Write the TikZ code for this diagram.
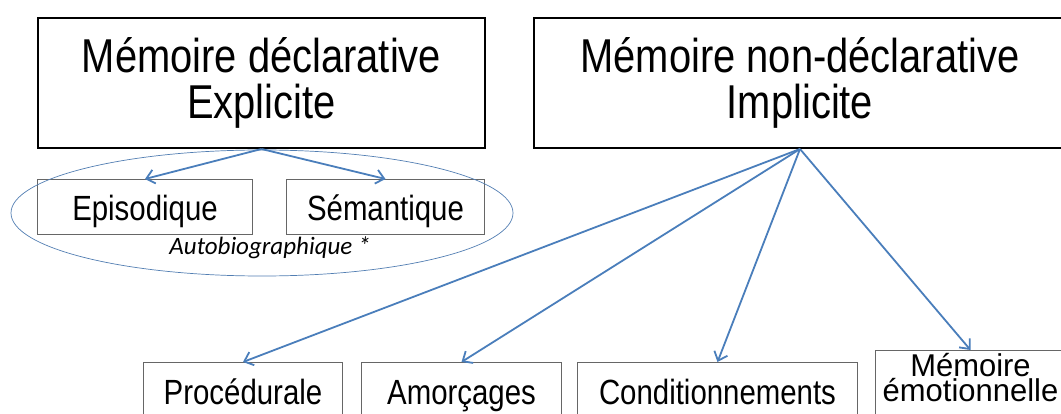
\documentclass[tikz,border=0pt]{standalone}
\usepackage{graphicx}
\usepackage{fontspec}
\setmainfont{Liberation Sans}
\newfontfamily\autofont{Carlito}
\usetikzlibrary{arrows.meta,shapes.geometric}
\definecolor{linkblue}{RGB}{74,126,187}
\newcommand{\narrow}[1]{\scalebox{0.84}[1]{#1}}
\begin{document}
\begin{tikzpicture}[x=1pt, y=-1pt,
  bigbox/.style={draw=black, line width=2pt, anchor=north west, align=center, inner sep=0pt, minimum height=130pt, font=\fontsize{47.5}{46}\selectfont},
  subbox/.style={draw=black!60, line width=1pt, anchor=north west, inner sep=0pt, minimum height=55pt, text height=34pt, text depth=6pt, font=\fontsize{35}{36}\selectfont},
  link/.style={-{Straight Barb[length=8pt,width=14pt]}, line width=1.8pt, draw=linkblue}]
\useasboundingbox (0,0) rectangle (1061,414);
\clip (0,0) rectangle (1061,414);
% top level
\node[bigbox, minimum width=447pt] (decl) at (37,17) {\narrow{Mémoire déclarative}\\ \narrow{Explicite}};
\node[bigbox, minimum width=532pt] (nondecl) at (533,17) {\narrow{Mémoire non-déclarative}\\ \narrow{Implicite}};
% explicit memory
\node[subbox, minimum width=215pt] (epi) at (37,179) {\narrow{Episodique}};
\node[subbox, minimum width=198pt] (sem) at (286,179) {\narrow{Sémantique}};
\node[draw=linkblue!85!gray, line width=0.7pt, ellipse, minimum width=502pt, minimum height=126pt] (autobio) at (262,213) {};
\node[font=\fontsize{25}{26}\autofont\itshape] (autolabel) at (270,248) {Autobiographique *};
% implicit memory
\node[subbox, minimum width=199pt, minimum height=56pt] (proc) at (143,362) {\narrow{Procédurale}};
\node[subbox, minimum width=200pt, minimum height=56pt] (amor) at (361,362) {\narrow{Amorçages}};
\node[subbox, minimum width=280pt, minimum height=56pt] (cond) at (577,362) {\narrow{Conditionnements}};
\node[subbox, minimum width=190pt, minimum height=70pt, text height=50pt, text depth=18pt, align=center, font=\fontsize{31.5}{25}\selectfont] (emo) at (875,350) {\narrow{\scalebox{1.17}[1]{Mémoire}}\\ \narrow{\scalebox{1.17}[1]{émotionnelle}}};
% links
\path (decl.south) edge[link] (epi.north);
\path (decl.south) edge[link] (sem.north);
\path (nondecl.south) edge[link] (proc.north);
\path (nondecl.south) edge[link] (amor.north);
\path (nondecl.south) edge[link] (cond.north);
\path (nondecl.south) edge[link] (emo.north);
\end{tikzpicture}
\end{document}
